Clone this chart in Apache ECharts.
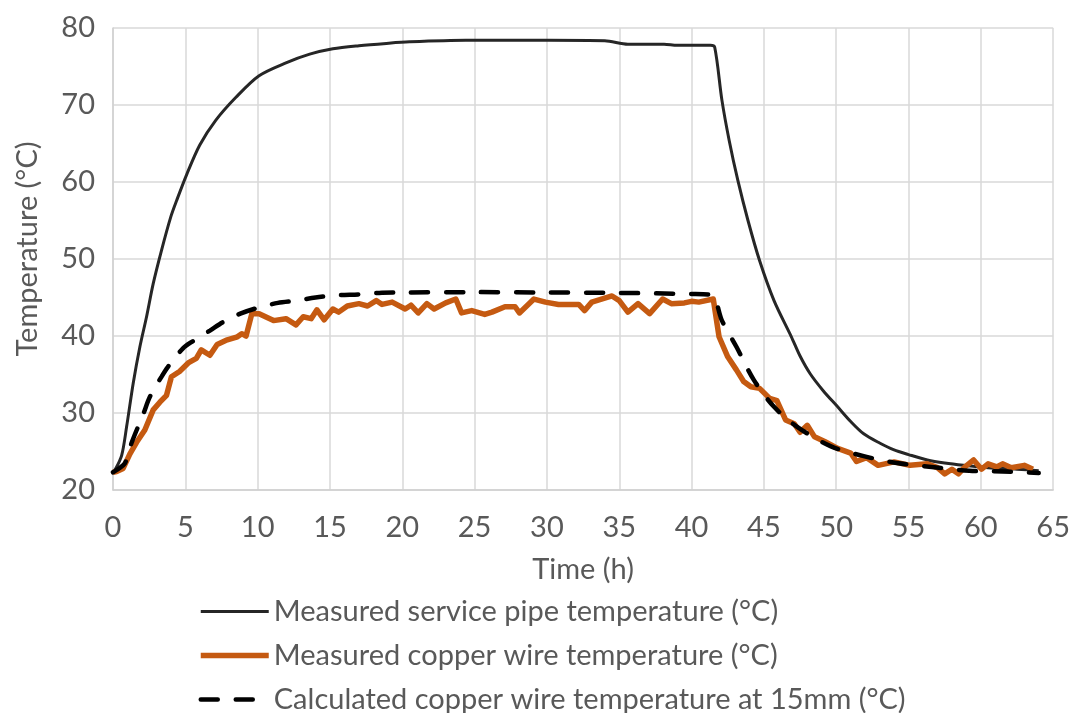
<!DOCTYPE html>
<html>
<head>
<meta charset="utf-8">
<script src="https://cdn.jsdelivr.net/npm/echarts@6/dist/echarts.min.js"></script>
<style>
html,body{margin:0;padding:0;background:#fff;}
#chart{width:1073px;height:713px;}
</style>
</head>
<body>
<div id="chart"></div>
<script>
// ---- data ----
const seriesNames = [
  'Measured service pipe temperature (°C)',
  'Measured copper wire temperature (°C)',
  'Calculated copper wire temperature at 15mm (°C)'
];
const xTicks = [0,5,10,15,20,25,30,35,40,45,50,55,60,65];
const yTicks = [20,30,40,50,60,70,80];

const pipeTime = [0,0.14,0.6,0.94,1.4,1.86,2.32,2.78,3.35,4.0,4.4,5.1,6.0,7.1,8.5,10.1,12.0,13.6,15.2,17.0,18.9,20.5,24.4,30.1,34.0,35.6,38.1,39.0,41.3,41.6,42.1,42.6,43.2,43.9,44.7,45.7,46.9,47.5,48.2,49.1,50.1,51.0,51.9,53.0,54.0,55.0,56.3,57.5,58.8,60.5,62.5,64.0];
const pipeTemp = [22.4,22.6,24.5,28.2,33.9,38.6,42.5,46.8,51.1,55.5,57.6,61.0,64.8,68.0,71.0,73.8,75.5,76.6,77.3,77.7,78.0,78.2,78.4,78.4,78.35,77.9,77.9,77.75,77.75,77.5,70.6,65.4,60.2,55.0,49.8,44.6,39.9,37.4,35.1,32.9,30.8,28.9,27.3,26.1,25.2,24.6,23.9,23.5,23.2,22.9,22.7,22.5];

const copperTime = [0,0.25,0.7,1.17,1.63,2.2,2.78,3.24,3.7,4.04,4.6,5.2,5.76,6.1,6.7,7.2,7.9,8.6,8.9,9.2,9.6,10.1,11.1,11.96,12.65,13.15,13.7,14.1,14.6,15.2,15.6,16.2,17.0,17.6,18.2,18.6,19.3,20.2,20.6,21.1,21.7,22.2,23.0,23.7,24.1,24.8,25.7,26.2,27.1,27.8,28.1,29.1,29.9,30.8,32.2,32.6,33.1,34.5,35.0,35.6,36.3,37.1,38.0,38.6,39.5,40.0,40.5,41.5,41.9,42.5,43.1,43.6,44.1,44.7,45.4,45.9,46.5,47.1,47.5,48.0,48.5,49.2,50.1,51.0,51.4,52.1,52.9,54.0,55.1,56.3,57.0,57.5,58.0,58.45,58.9,59.5,60.05,60.5,61.1,61.5,62.1,63.0,63.6];
const copperTemp = [22.3,22.4,22.8,24.7,26.2,27.8,30.4,31.4,32.3,34.7,35.4,36.5,37.1,38.2,37.5,38.9,39.5,39.9,40.3,40.0,42.9,42.9,42.0,42.25,41.45,42.5,42.25,43.4,42.1,43.5,43.1,43.9,44.2,43.9,44.6,44.1,44.4,43.5,44.0,43.0,44.2,43.5,44.3,44.8,43.0,43.3,42.8,43.1,43.8,43.8,43.0,44.8,44.4,44.1,44.1,43.3,44.4,45.2,44.6,43.1,44.2,42.9,44.8,44.2,44.3,44.5,44.4,44.8,39.9,37.3,35.6,34.1,33.4,33.2,31.9,31.6,29.1,28.6,27.5,28.4,26.9,26.3,25.4,24.8,23.7,24.2,23.2,23.65,23.2,23.4,22.9,22.1,22.7,22.1,23.0,23.9,22.7,23.4,23.0,23.4,22.9,23.2,22.7];

const calcTime = [0,0.25,0.83,1.3,2.1,2.55,3.35,3.8,4.84,5.5,6.7,7.6,8.8,9.9,11.4,12.7,14.0,15.6,17.0,18.4,20,25,30,35,40,41.4,42.1,43.1,44.3,45.7,47.3,49.6,51.9,54.2,56.6,59.2,61.5,64.0];
const calcTemp = [22.3,22.6,23.5,26.2,29.9,32.1,34.7,36.0,38.4,39.3,40.7,41.8,42.9,43.6,44.3,44.6,45.0,45.3,45.4,45.6,45.65,45.7,45.65,45.6,45.45,45.3,42.0,38.6,34.3,30.8,28.2,25.7,24.4,23.5,23.0,22.5,22.4,22.2];

function pairs(t, v){ return t.map((x,i)=>[x, v[i]]); }

const FONT = 'Lato';
const TXT = '#595959';
const FS = 29;
const chart = echarts.init(document.getElementById('chart'));
chart.setOption({
  animation:false,
  backgroundColor:'#ffffff',
  textStyle:{fontFamily:FONT},
  grid:{left:113,right:16,top:28,bottom:223,containLabel:false},
  xAxis:{
    type:'value',min:0,max:65,interval:5,
    name:'Time (h)',nameLocation:'middle',nameGap:65,
    nameTextStyle:{fontSize:FS,color:TXT,fontFamily:FONT},
    axisLine:{show:true,lineStyle:{color:'#d0d0d0',width:1.5}},
    axisTick:{show:false},
    axisLabel:{fontSize:FS,color:TXT,margin:23,fontFamily:FONT,
      formatter:v=>xTicks.includes(v)?String(v):''},
    splitLine:{show:true,lineStyle:{color:'#d9d9d9',width:1.5}}
  },
  yAxis:{
    type:'value',min:20,max:80,interval:10,
    name:'Temperature (°C)',nameLocation:'middle',nameGap:71,
    nameTextStyle:{fontSize:FS,color:TXT,fontFamily:FONT,padding:[0,0,0,20]},
    axisLine:{show:true,lineStyle:{color:'#d0d0d0',width:1.5}},
    axisTick:{show:false},
    axisLabel:{fontSize:FS,color:TXT,margin:18,fontFamily:FONT,
      formatter:v=>yTicks.includes(v)?String(v):''},
    splitLine:{show:true,lineStyle:{color:'#d9d9d9',width:1.5}}
  },
  legend:{
    orient:'vertical',left:198,top:597,height:200,padding:0,itemGap:15,
    itemWidth:68,itemHeight:24,
    itemStyle:{opacity:0},
    textStyle:{fontSize:FS,color:TXT,fontFamily:FONT},
    data:[
      {name:seriesNames[0],lineStyle:{width:3}},
      {name:seriesNames[1],lineStyle:{width:5.5}},
      {name:seriesNames[2],lineStyle:{width:4.5}}
    ]
  },
  series:[
    {name:seriesNames[0],type:'line',data:pairs(pipeTime,pipeTemp),showSymbol:false,symbol:'none',
     smooth:0.3,lineStyle:{color:'#262626',width:3},itemStyle:{color:'#262626'},z:2},
    {name:seriesNames[1],type:'line',data:pairs(copperTime,copperTemp),showSymbol:false,symbol:'none',
     lineStyle:{color:'#c55a11',width:5.5,join:'round'},itemStyle:{color:'#c55a11'},z:3},
    {name:seriesNames[2],type:'line',data:pairs(calcTime,calcTemp),showSymbol:false,symbol:'none',
     smooth:0.3,lineStyle:{color:'#000000',width:4.5,type:[17,18],cap:'round'},itemStyle:{color:'#000000'},z:4}
  ]
});
</script>
</body>
</html>
